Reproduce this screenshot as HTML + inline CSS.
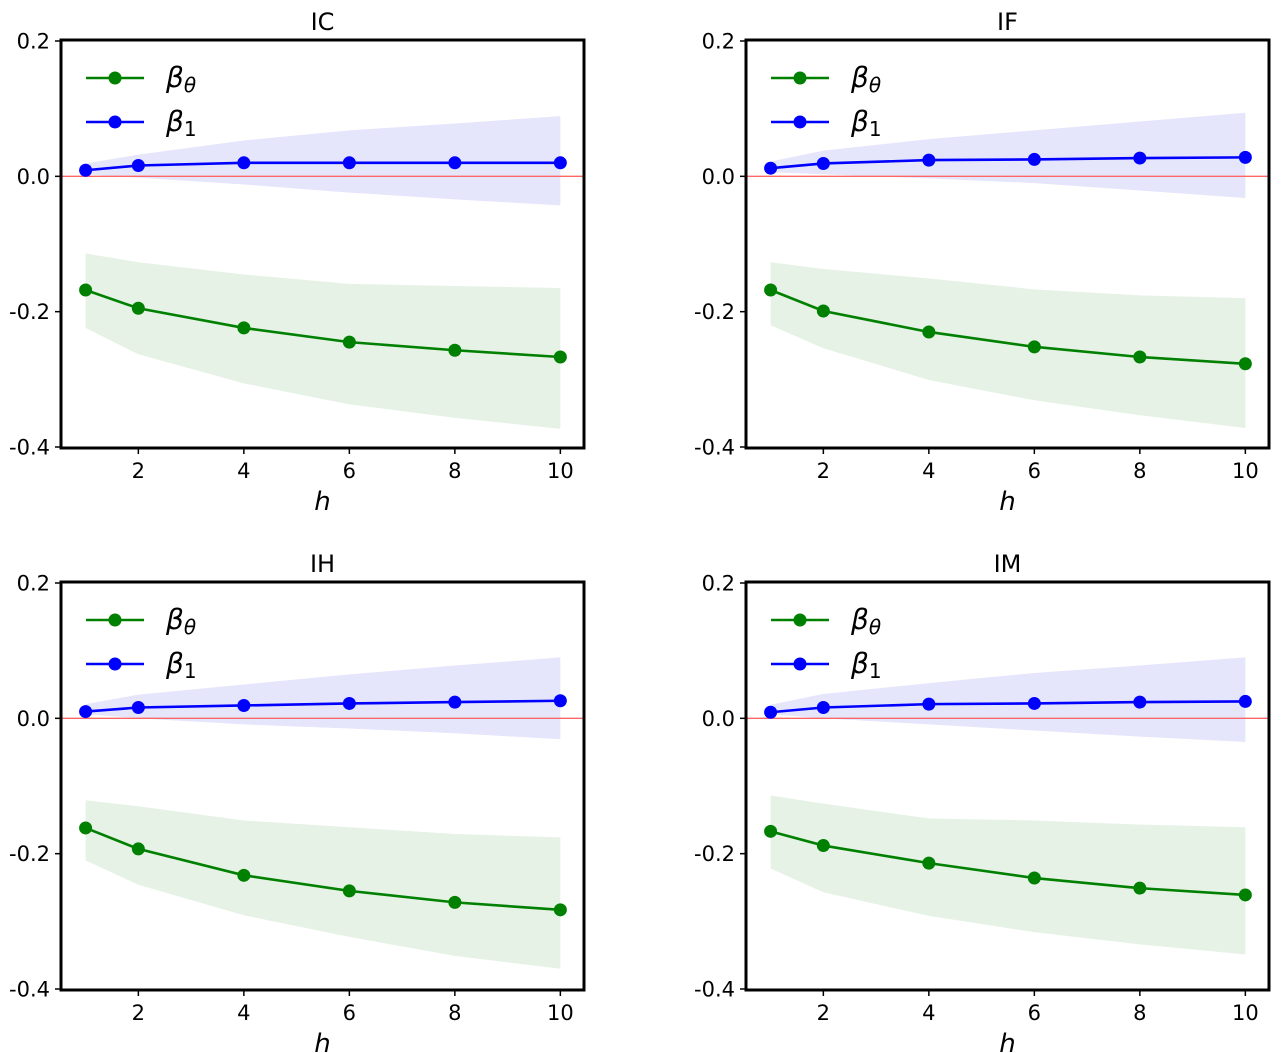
<!DOCTYPE html>
<html><head><meta charset="utf-8">
<style>
html,body{margin:0;padding:0;background:#fff;}
svg{display:block;font-family:"DejaVu Sans","Liberation Sans",sans-serif;}
</style></head>
<body>
<svg id="chart" width="1287" height="1053" viewBox="0 0 1287 1053" xmlns="http://www.w3.org/2000/svg"></svg>
<script>
const hValues = [1, 2, 4, 6, 8, 10];
const xTicks = [2, 4, 6, 8, 10];
const yTicks = [0.2, 0.0, -0.2, -0.4];
const yTickLabels = ["0.2", "0.0", "-0.2", "-0.4"];
const panelTitles = ["IC", "IF", "IH", "IM"];

const greenMean = [
  [-0.168, -0.195, -0.224, -0.245, -0.257, -0.267],
  [-0.168, -0.199, -0.230, -0.252, -0.267, -0.277],
  [-0.162, -0.193, -0.232, -0.255, -0.272, -0.283],
  [-0.167, -0.188, -0.214, -0.236, -0.251, -0.261]
];
const greenUpper = [
  [-0.114, -0.127, -0.145, -0.159, -0.162, -0.165],
  [-0.127, -0.137, -0.151, -0.167, -0.176, -0.180],
  [-0.121, -0.130, -0.151, -0.161, -0.171, -0.176],
  [-0.114, -0.126, -0.148, -0.151, -0.157, -0.161]
];
const greenLower = [
  [-0.224, -0.263, -0.306, -0.337, -0.357, -0.373],
  [-0.220, -0.254, -0.301, -0.331, -0.353, -0.372],
  [-0.210, -0.246, -0.291, -0.323, -0.351, -0.370],
  [-0.222, -0.257, -0.292, -0.316, -0.334, -0.349]
];
const blueMean = [
  [0.009, 0.016, 0.020, 0.020, 0.020, 0.020],
  [0.012, 0.019, 0.024, 0.025, 0.027, 0.028],
  [0.010, 0.016, 0.019, 0.022, 0.024, 0.026],
  [0.009, 0.016, 0.021, 0.022, 0.024, 0.025]
];
const blueUpper = [
  [0.019, 0.032, 0.053, 0.068, 0.078, 0.089],
  [0.022, 0.038, 0.055, 0.068, 0.081, 0.094],
  [0.021, 0.035, 0.050, 0.065, 0.078, 0.090],
  [0.020, 0.036, 0.052, 0.067, 0.078, 0.090]
];
const blueLower = [
  [0.003, -0.002, -0.012, -0.024, -0.034, -0.043],
  [0.006, 0.003, -0.003, -0.010, -0.021, -0.032],
  [0.006, 0.000, -0.009, -0.015, -0.022, -0.031],
  [0.006, 0.000, -0.009, -0.018, -0.027, -0.035]
];

const NS = "http://www.w3.org/2000/svg";
const svg = document.getElementById('chart');
function mk(tag, attrs, parent){
  const e = document.createElementNS(NS, tag);
  for (const k in attrs) e.setAttribute(k, attrs[k]);
  parent.appendChild(e); return e;
}
const panels = [
  {left:61, top:40},{left:746, top:40},{left:61, top:582},{left:746, top:582}
];
const W = 523, H = 408;
panels.forEach((p, i) => {
  const g = mk('g', {}, svg);
  
  
  const y0 = p.top + 1;
  const xs = v => p.left + 24.6 + (v - 1) * 52.75;
  const ys = v => y0 + (0.2 - v) / 0.6 * 406;
  const band = (up, lo, color, name) => {
    let d = 'M' + hValues.map((h, k) => xs(h) + ',' + ys(up[k])).join('L');
    d += 'L' + hValues.slice().reverse().map((h, k) => xs(h) + ',' + ys(lo[lo.length - 1 - k])).join('L') + 'Z';
    const e = mk('path', {d: d, fill: color}, g);
    
    
  };
  band(blueUpper[i], blueLower[i], '#e5e5fc', 'beta1-band');
  band(greenUpper[i], greenLower[i], '#e5f2e5', 'beta0-band');
  const zl = mk('line', {x1: p.left, x2: p.left + W, y1: ys(0), y2: ys(0), stroke: '#ff6666', 'stroke-width': 1.3}, g);
  
  
  const series = (vals, color, name) => {
    const pl = mk('polyline', {points: hValues.map((h, k) => xs(h) + ',' + ys(vals[k])).join(' '), fill: 'none', stroke: color, 'stroke-width': 2.6}, g);
    
    
    hValues.forEach((h, k) => {
      const c = mk('circle', {cx: xs(h), cy: ys(vals[k]), r: 6.5, fill: color}, g);
      
      
    });
  };
  series(blueMean[i], '#0000ff', 'beta1');
  series(greenMean[i], '#008000', 'beta0');
  const fr = mk('rect', {x: p.left, y: p.top, width: W, height: H, fill: 'none', stroke: '#000', 'stroke-width': 3}, g);
  
  
  xTicks.forEach(t => {
    mk('line', {x1: xs(t), x2: xs(t), y1: p.top + H, y2: p.top + H + 6, stroke: '#000', 'stroke-width': 1.5}, g);
    const tx = mk('text', {x: xs(t), y: p.top + H + 30, 'font-size': 21, 'text-anchor': 'middle'}, g);
    tx.textContent = t;
    
    
  });
  yTicks.forEach((t, k) => {
    mk('line', {x1: p.left - 6, x2: p.left, y1: ys(t), y2: ys(t), stroke: '#000', 'stroke-width': 1.5}, g);
    const tx = mk('text', {x: p.left - 11, y: ys(t) + 7.5, 'font-size': 21, 'text-anchor': 'end'}, g);
    tx.textContent = yTickLabels[k];
    
    
  });
  const ti = mk('text', {x: p.left + W / 2, y: p.top - 10, 'font-size': 24, 'text-anchor': 'middle'}, g);
  ti.textContent = panelTitles[i];
  
  
  const xl = mk('text', {x: p.left + W / 2, y: p.top + H + 62, 'font-size': 26, 'font-style': 'italic', 'text-anchor': 'middle'}, g);
  xl.textContent = 'h';
  
  
  const leg = [['#008000', 'β', 'θ', 'italic', 78], ['#0000ff', 'β', '1', 'normal', 122]];
  leg.forEach(([c, s, sub, st, yy]) => {
    const lg = mk('g', {}, g);
    
    
    const ly = p.top + yy - 40;
    mk('line', {x1: p.left + 25, x2: p.left + 83, y1: ly, y2: ly, stroke: c, 'stroke-width': 2.6}, lg);
    mk('circle', {cx: p.left + 54, cy: ly, r: 6.5, fill: c}, lg);
    const t = mk('text', {x: p.left + 105, y: ly + 9, 'font-size': 28, 'font-style': 'italic'}, lg);
    t.textContent = s;
    const ts = mk('tspan', {'font-size': 20, dy: 5, 'font-style': st}, t);
    ts.textContent = sub;
  });
});
</script>
</body></html>
